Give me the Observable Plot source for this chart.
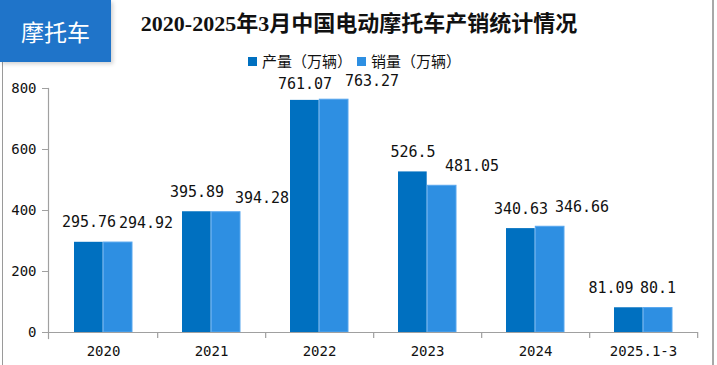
<!DOCTYPE html>
<html>
<head>
<meta charset="utf-8">
<script src="https://cdn.jsdelivr.net/npm/d3@7"></script>
<script src="https://cdn.jsdelivr.net/npm/@observablehq/plot@0.6"></script>
<style>
  html, body { margin: 0; padding: 0; background: #fff; }
  #wrap { position: relative; width: 717px; height: 365px; overflow: hidden; background: #fff; }
  #chart { position: absolute; left: 0; top: 0; }
  #badge { position: absolute; left: 0; top: 0; width: 111px; height: 62px; background: #1f74c9;
           color: #fff; font-family: "Noto Sans CJK SC", sans-serif; font-size: 23px; line-height: 62px;
           text-align: center; box-shadow: 2px 2px 4px rgba(0,0,0,0.18); z-index: 3; }
  #title { position: absolute; left: 124px; width: 470px; top: 9px; text-align: center;
           font-family: "Liberation Serif", "Noto Sans CJK SC", serif; font-weight: bold; font-size: 22px;
           color: #111; line-height: 30px; z-index: 2; white-space: nowrap; }
  #legend { position: absolute; left: 248px; top: 52px; font-family: "Noto Sans CJK SC", sans-serif;
            font-size: 15px; line-height: 18px; color: #111; display: flex; z-index: 2; }
  #legend span.item { display: inline-flex; align-items: center; }
  #legend span.sw { display: inline-block; width: 9px; height: 9px; margin-right: 5px; }
  #lborder { position: absolute; left: 2px; top: 62px; width: 1px; height: 303px; background: #9a9a9a; }
  #rborder { position: absolute; left: 712px; top: 0; width: 2px; height: 365px; background: #a8a8a8; }
</style>
</head>
<body>
<div id="wrap">
  <div id="chart"></div>
  <div id="badge"></div>
  <div id="title"></div>
  <div id="legend"></div>
  <div id="lborder"></div>
  <div id="rborder"></div>
</div>
<script>
const titleText = "2020-2025年3月中国电动摩托车产销统计情况";
const badgeText = "摩托车";
const categories = ["2020", "2021", "2022", "2023", "2024", "2025.1-3"];
const production = [295.76, 395.89, 761.07, 526.5, 340.63, 81.09];
const sales = [294.92, 394.28, 763.27, 481.05, 346.66, 80.1];
const seriesNames = ["产量（万辆）", "销量（万辆）"];
const yTicks = [0, 200, 400, 600, 800];

const colors = ["#0070c0", "#2e8fe2"];

const rows = [];
categories.forEach((c, i) => {
  rows.push({cat: c, series: seriesNames[0], value: production[i], idx: i, s: 0});
  rows.push({cat: c, series: seriesNames[1], value: sales[i], idx: i, s: 1});
});

// label nudges (layout only, in pixels)
function labelDx(d) {
  if (d.s === 0) return d.idx === 5 ? -18 : 0;
  return [28, 36, 38, 30, 32, 0][d.idx];
}
function labelDy(d) {
  if (d.s === 0) return d.idx === 2 ? 4 : 0;
  return [0, 6, 1, 0, 0, 0][d.idx];
}

const numFont = "'DejaVu Sans Mono', monospace";
const axisColor = "#a0a0a0";

const darkRows = rows.filter(d => d.s === 0);
const lightRows = rows.filter(d => d.s === 1);

const labelMarks = rows.map(d => Plot.text([d], {
  x: "cat", y: "value",
  text: r => String(r.value),
  dx: (d.s === 0 ? -14.5 : 14.5) + labelDx(d),
  dy: -15 + labelDy(d),
  fontSize: 15, fontFamily: numFont, fill: "#111",
  lineAnchor: "bottom"
}));

const plot = Plot.plot({
  width: 717,
  height: 365,
  marginTop: 88,
  marginBottom: 33,
  marginLeft: 48,
  marginRight: 19,
  style: {background: "transparent", fontFamily: numFont, fontSize: "14px", color: "#111"},
  x: {type: "band", domain: categories, paddingInner: 0, paddingOuter: 0, axis: null, label: null},
  y: {domain: [0, 800], axis: null, label: null},
  marks: [
    Plot.barY(darkRows, {x: "cat", y: "value", fill: colors[0], insetLeft: 25, insetRight: 54.3}),
    Plot.barY(lightRows, {x: "cat", y: "value", fill: colors[1], stroke: "#56a6ee", strokeWidth: 1, insetLeft: 54.3, insetRight: 25}),
    Plot.ruleY([0], {stroke: axisColor, strokeWidth: 1.2}),
    Plot.frame({anchor: "left", stroke: axisColor, strokeWidth: 1.2, insetBottom: -6}),
    Plot.ruleX(categories, {x: d => d, dx: 54.17, stroke: axisColor, strokeWidth: 1.2, insetTop: 244, insetBottom: -6}),
    Plot.axisY({ticks: yTicks, tickSize: 6, tickPadding: 6, stroke: axisColor, fill: "#111",
      fontSize: 14, fontFamily: numFont, tickFormat: d => String(d), label: null}),
    Plot.axisX({tickSize: 0, tickPadding: 14, fill: "#111", fontSize: 14, fontFamily: numFont, label: null}),
    ...labelMarks
  ]
});
document.getElementById("chart").appendChild(plot);

document.getElementById("badge").textContent = badgeText;
document.getElementById("title").textContent = titleText;
const legend = document.getElementById("legend");
seriesNames.forEach((name, i) => {
  const item = document.createElement("span");
  item.className = "item";
  item.style.marginRight = i === 0 ? "5px" : "0";
  const sw = document.createElement("span");
  sw.className = "sw";
  sw.style.background = colors[i];
  item.appendChild(sw);
  item.appendChild(document.createTextNode(name));
  legend.appendChild(item);
});
</script>
</body>
</html>
